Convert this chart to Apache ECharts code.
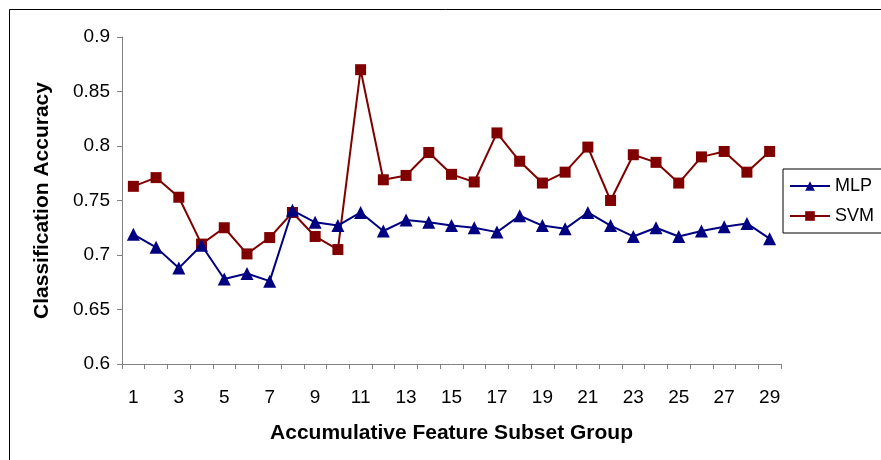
<!DOCTYPE html>
<html>
<head>
<meta charset="utf-8">
<script src="https://cdn.jsdelivr.net/npm/echarts@6/dist/echarts.min.js"></script>
<style>
  html, body { margin: 0; padding: 0; background: #fff; }
  #chart { width: 881px; height: 460px; }
</style>
</head>
<body>
<div id="chart"></div>
<script>
const groups = Array.from({ length: 29 }, (_, i) => String(i + 1));

const mlpAcc = [
  0.719, 0.707, 0.688, 0.709, 0.678, 0.683, 0.676, 0.741, 0.730, 0.727,
  0.739, 0.722, 0.732, 0.730, 0.727, 0.725, 0.721, 0.736, 0.727, 0.724,
  0.739, 0.727, 0.717, 0.725, 0.717, 0.722, 0.726, 0.729, 0.715
];

const svmAcc = [
  0.763, 0.771, 0.753, 0.710, 0.725, 0.701, 0.716, 0.739, 0.717, 0.705,
  0.870, 0.769, 0.773, 0.794, 0.774, 0.767, 0.812, 0.786, 0.766, 0.776,
  0.799, 0.750, 0.792, 0.785, 0.766, 0.790, 0.795, 0.776, 0.795
];

const FONT = "Liberation Sans, Arial, sans-serif";

const chart = echarts.init(document.getElementById("chart"));

chart.setOption({
  backgroundColor: "#fff",
  animation: false,
  textStyle: { fontFamily: FONT, color: "#000" },
  graphic: [
    {
      type: "rect",
      left: 7,
      top: 7,
      shape: { width: 900, height: 500 },
      style: { fill: "none", stroke: "#000", lineWidth: 1 },
      z: -1,
    },
  ],
  grid: {
    left: 122,
    right: 100,
    top: 37,
    bottom: 96,
  },
  legend: {
    orient: "vertical",
    left: 783,
    top: 169,
    data: ["MLP", "SVM"],
    itemWidth: 40,
    itemHeight: 12,
    itemGap: 12,
    padding: [8, 14, 8, 6],
    borderColor: "#000",
    borderWidth: 1,
    backgroundColor: "#fff",
    textStyle: { fontFamily: FONT, fontSize: 18, color: "#000" },
  },
  xAxis: {
    type: "category",
    data: groups,
    boundaryGap: true,
    name: "Accumulative Feature Subset Group",
    nameLocation: "middle",
    nameGap: 59,
    nameTextStyle: { fontFamily: FONT, fontSize: 21, fontWeight: "bold", color: "#000" },
    axisLine: { lineStyle: { color: "#808080", width: 1 } },
    axisTick: { show: true, length: 5, interval: 0, lineStyle: { color: "#808080" } },
    axisLabel: {
      interval: 1,
      margin: 24,
      fontSize: 19,
      color: "#000",
      fontFamily: FONT,
    },
    splitLine: { show: false },
  },
  yAxis: {
    type: "value",
    min: 0.6,
    max: 0.9,
    interval: 0.05,
    name: "Classification Accuracy",
    nameLocation: "middle",
    nameGap: 69,
    nameRotate: 90,
    nameTextStyle: { fontFamily: FONT, fontSize: 21, fontWeight: "bold", color: "#000" },
    axisLine: { show: true, lineStyle: { color: "#808080", width: 1 } },
    axisTick: { show: true, length: 5, lineStyle: { color: "#808080" } },
    axisLabel: {
      margin: 12,
      fontSize: 19,
      color: "#000",
      fontFamily: FONT,
      formatter: (v) => String(Math.round(v * 100) / 100),
    },
    splitLine: { show: false },
  },
  series: [
    {
      name: "MLP",
      type: "line",
      data: mlpAcc,
      symbol: "triangle",
      symbolSize: 13,
      color: "#000080",
      lineStyle: { width: 2, color: "#000080" },
      itemStyle: { color: "#000080" },
      z: 3,
    },
    {
      name: "SVM",
      type: "line",
      data: svmAcc,
      symbol: "rect",
      symbolSize: 11,
      color: "#800000",
      lineStyle: { width: 2, color: "#800000" },
      itemStyle: { color: "#800000" },
      z: 2,
    },
  ],
});
</script>
</body>
</html>
